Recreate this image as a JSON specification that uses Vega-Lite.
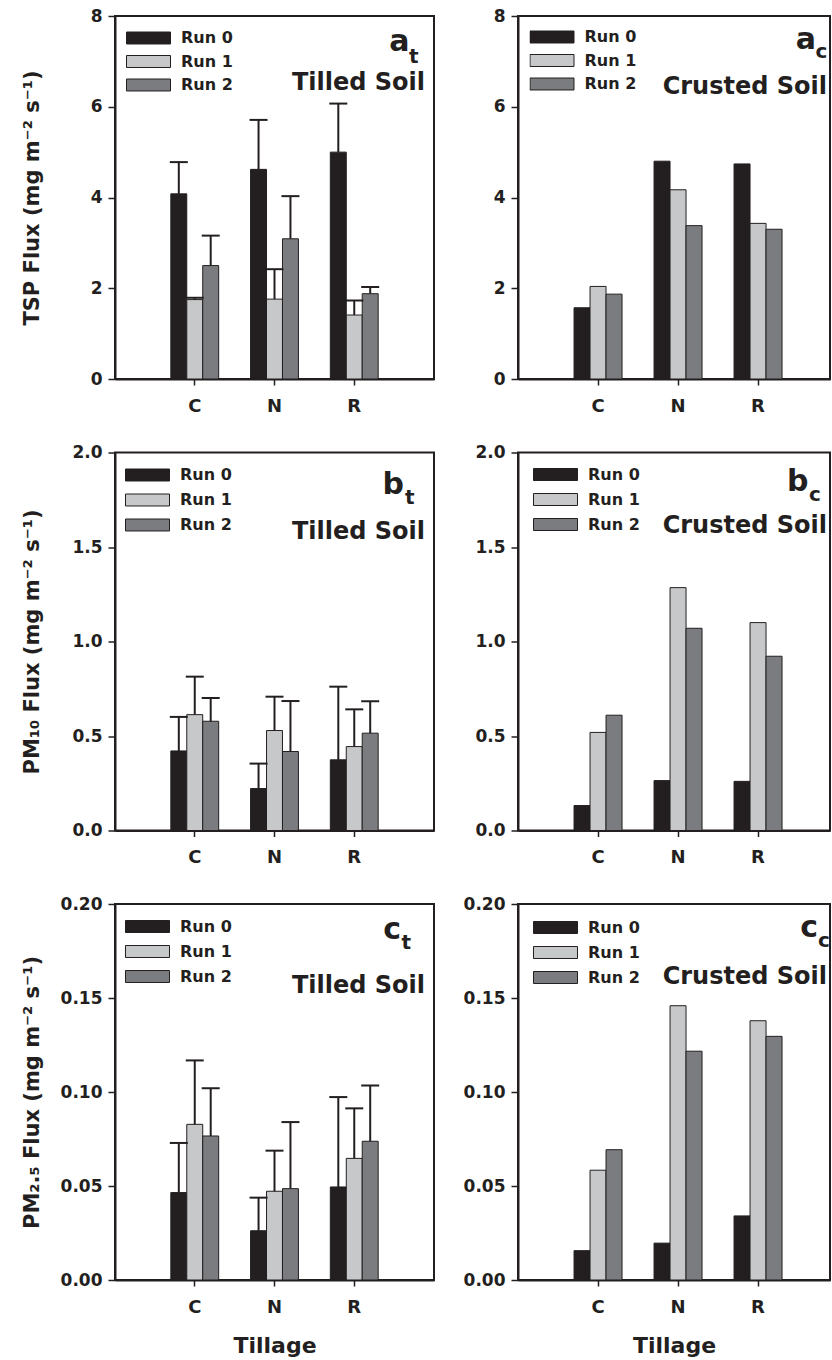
{
  "$schema": "https://vega.github.io/schema/vega-lite/v6.json",
  "background": "white",
  "padding": {"left": 20, "top": 6, "right": 0, "bottom": 0},
  "datasets": {
    "flux": [
      {"panel": "a_t", "tillage": "C", "run": "Run 0", "value": 4.08, "upper": 4.78},
      {"panel": "a_t", "tillage": "C", "run": "Run 1", "value": 1.75, "upper": 1.79},
      {"panel": "a_t", "tillage": "C", "run": "Run 2", "value": 2.5, "upper": 3.16},
      {"panel": "a_t", "tillage": "N", "run": "Run 0", "value": 4.62, "upper": 5.71},
      {"panel": "a_t", "tillage": "N", "run": "Run 1", "value": 1.76, "upper": 2.42},
      {"panel": "a_t", "tillage": "N", "run": "Run 2", "value": 3.09, "upper": 4.03},
      {"panel": "a_t", "tillage": "R", "run": "Run 0", "value": 5.0, "upper": 6.07},
      {"panel": "a_t", "tillage": "R", "run": "Run 1", "value": 1.41, "upper": 1.73},
      {"panel": "a_t", "tillage": "R", "run": "Run 2", "value": 1.88, "upper": 2.03},
      {"panel": "a_c", "tillage": "C", "run": "Run 0", "value": 1.57},
      {"panel": "a_c", "tillage": "C", "run": "Run 1", "value": 2.04},
      {"panel": "a_c", "tillage": "C", "run": "Run 2", "value": 1.87},
      {"panel": "a_c", "tillage": "N", "run": "Run 0", "value": 4.8},
      {"panel": "a_c", "tillage": "N", "run": "Run 1", "value": 4.17},
      {"panel": "a_c", "tillage": "N", "run": "Run 2", "value": 3.38},
      {"panel": "a_c", "tillage": "R", "run": "Run 0", "value": 4.74},
      {"panel": "a_c", "tillage": "R", "run": "Run 1", "value": 3.43},
      {"panel": "a_c", "tillage": "R", "run": "Run 2", "value": 3.3},
      {"panel": "b_t", "tillage": "C", "run": "Run 0", "value": 0.421, "upper": 0.601},
      {"panel": "b_t", "tillage": "C", "run": "Run 1", "value": 0.613, "upper": 0.814},
      {"panel": "b_t", "tillage": "C", "run": "Run 2", "value": 0.578, "upper": 0.701},
      {"panel": "b_t", "tillage": "N", "run": "Run 0", "value": 0.222, "upper": 0.354},
      {"panel": "b_t", "tillage": "N", "run": "Run 1", "value": 0.529, "upper": 0.708},
      {"panel": "b_t", "tillage": "N", "run": "Run 2", "value": 0.418, "upper": 0.685},
      {"panel": "b_t", "tillage": "R", "run": "Run 0", "value": 0.374, "upper": 0.761},
      {"panel": "b_t", "tillage": "R", "run": "Run 1", "value": 0.444, "upper": 0.641},
      {"panel": "b_t", "tillage": "R", "run": "Run 2", "value": 0.515, "upper": 0.684},
      {"panel": "b_c", "tillage": "C", "run": "Run 0", "value": 0.132},
      {"panel": "b_c", "tillage": "C", "run": "Run 1", "value": 0.519},
      {"panel": "b_c", "tillage": "C", "run": "Run 2", "value": 0.61},
      {"panel": "b_c", "tillage": "N", "run": "Run 0", "value": 0.264},
      {"panel": "b_c", "tillage": "N", "run": "Run 1", "value": 1.285},
      {"panel": "b_c", "tillage": "N", "run": "Run 2", "value": 1.07},
      {"panel": "b_c", "tillage": "R", "run": "Run 0", "value": 0.26},
      {"panel": "b_c", "tillage": "R", "run": "Run 1", "value": 1.1},
      {"panel": "b_c", "tillage": "R", "run": "Run 2", "value": 0.922},
      {"panel": "c_t", "tillage": "C", "run": "Run 0", "value": 0.0465, "upper": 0.0729},
      {"panel": "c_t", "tillage": "C", "run": "Run 1", "value": 0.0828, "upper": 0.1168},
      {"panel": "c_t", "tillage": "C", "run": "Run 2", "value": 0.0766, "upper": 0.102},
      {"panel": "c_t", "tillage": "N", "run": "Run 0", "value": 0.0262, "upper": 0.0438},
      {"panel": "c_t", "tillage": "N", "run": "Run 1", "value": 0.0472, "upper": 0.0688},
      {"panel": "c_t", "tillage": "N", "run": "Run 2", "value": 0.0486, "upper": 0.084},
      {"panel": "c_t", "tillage": "R", "run": "Run 0", "value": 0.0495, "upper": 0.0973},
      {"panel": "c_t", "tillage": "R", "run": "Run 1", "value": 0.0647, "upper": 0.0913},
      {"panel": "c_t", "tillage": "R", "run": "Run 2", "value": 0.0738, "upper": 0.1034},
      {"panel": "c_c", "tillage": "C", "run": "Run 0", "value": 0.0156},
      {"panel": "c_c", "tillage": "C", "run": "Run 1", "value": 0.0584},
      {"panel": "c_c", "tillage": "C", "run": "Run 2", "value": 0.0693},
      {"panel": "c_c", "tillage": "N", "run": "Run 0", "value": 0.0196},
      {"panel": "c_c", "tillage": "N", "run": "Run 1", "value": 0.1459},
      {"panel": "c_c", "tillage": "N", "run": "Run 2", "value": 0.1217},
      {"panel": "c_c", "tillage": "R", "run": "Run 0", "value": 0.0341},
      {"panel": "c_c", "tillage": "R", "run": "Run 1", "value": 0.1379},
      {"panel": "c_c", "tillage": "R", "run": "Run 2", "value": 0.1296}
    ],
    "notes": [
      {"panel": "a_t", "letter": "a", "sub": "t", "soil": "Tilled Soil"},
      {"panel": "a_c", "letter": "a", "sub": "c", "soil": "Crusted Soil"},
      {"panel": "b_t", "letter": "b", "sub": "t", "soil": "Tilled Soil"},
      {"panel": "b_c", "letter": "b", "sub": "c", "soil": "Crusted Soil"},
      {"panel": "c_t", "letter": "c", "sub": "t", "soil": "Tilled Soil"},
      {"panel": "c_c", "letter": "c", "sub": "c", "soil": "Crusted Soil"}
    ]
  },
  "bounds": "flush",
  "columns": 2,
  "spacing": {"row": 73.5, "column": 84},
  "resolve": {"scale": {"x": "independent", "y": "independent", "xOffset": "independent", "fill": "independent"}, "legend": {"fill": "independent"}},
  "concat": [
    {
      "width": 319, "height": 363,
      "layer": [
        {"data": {"name": "flux"}, "transform": [{"filter": "datum.panel === 'a_t'"}],
         "mark": {"type": "bar", "stroke": "#231f20", "strokeWidth": 1, "opacity": 1},
         "encoding": {
           "x": {"field": "tillage", "type": "nominal", "sort": ["C", "N", "R"], "scale": {"paddingInner": 0, "paddingOuter": 0.5}, "axis": {"title": null}},
           "xOffset": {"field": "run", "type": "nominal", "sort": ["Run 0", "Run 1", "Run 2"], "scale": {"paddingInner": 0, "paddingOuter": 1}},
           "y": {"field": "value", "type": "quantitative", "scale": {"domain": [0, 8], "nice": false}, "axis": {"values": [0, 2, 4, 6, 8], "format": "d", "title": "TSP Flux (mg m⁻² s⁻¹)"}},
           "fill": {"field": "run", "type": "nominal", "scale": {"domain": ["Run 0", "Run 1", "Run 2"], "range": ["#231f20", "#c7c8ca", "#7b7c80"]}, "legend": {"title": null, "legendX": 11, "legendY": 15, "rowPadding": 7.5}}
         }},
        {"data": {"name": "flux"}, "transform": [{"filter": "datum.panel === 'a_t'"}],
         "mark": {"type": "rule", "color": "#231f20", "strokeWidth": 2, "opacity": 1},
         "encoding": {
           "x": {"field": "tillage", "type": "nominal", "sort": ["C", "N", "R"], "scale": {"paddingInner": 0, "paddingOuter": 0.5}, "axis": {"title": null}},
           "xOffset": {"field": "run", "type": "nominal", "sort": ["Run 0", "Run 1", "Run 2"], "scale": {"paddingInner": 0, "paddingOuter": 1}},
           "y": {"field": "value", "type": "quantitative", "scale": {"domain": [0, 8], "nice": false}, "axis": {"values": [0, 2, 4, 6, 8], "format": "d", "title": "TSP Flux (mg m⁻² s⁻¹)"}},
           "y2": {"field": "upper"}
         }},
        {"data": {"name": "flux"}, "transform": [{"filter": "datum.panel === 'a_t'"}],
         "mark": {"type": "tick", "color": "#231f20", "thickness": 2, "size": 18, "orient": "horizontal", "opacity": 1},
         "encoding": {
           "x": {"field": "tillage", "type": "nominal", "sort": ["C", "N", "R"], "scale": {"paddingInner": 0, "paddingOuter": 0.5}, "axis": {"title": null}},
           "xOffset": {"field": "run", "type": "nominal", "sort": ["Run 0", "Run 1", "Run 2"], "scale": {"paddingInner": 0, "paddingOuter": 1}},
           "y": {"field": "upper", "type": "quantitative", "scale": {"domain": [0, 8], "nice": false}, "axis": {"values": [0, 2, 4, 6, 8], "format": "d", "title": "TSP Flux (mg m⁻² s⁻¹)"}}
         }},
        {"data": {"name": "notes"}, "transform": [{"filter": "datum.panel === 'a_t'"}],
         "mark": {"type": "text", "align": "right", "baseline": "alphabetic", "fontSize": 30, "dx": -24.5},
         "encoding": {"x": {"value": "width"}, "y": {"datum": 7.23}, "text": {"field": "letter"}}},
        {"data": {"name": "notes"}, "transform": [{"filter": "datum.panel === 'a_t'"}],
         "mark": {"type": "text", "align": "left", "baseline": "alphabetic", "fontSize": 20, "dx": -25},
         "encoding": {"x": {"value": "width"}, "y": {"datum": 6.97}, "text": {"field": "sub"}}},
        {"data": {"name": "notes"}, "transform": [{"filter": "datum.panel === 'a_t'"}],
         "mark": {"type": "text", "align": "right", "baseline": "alphabetic", "fontSize": 24, "dx": -9},
         "encoding": {"x": {"value": "width"}, "y": {"datum": 6.38}, "text": {"field": "soil"}}}
      ]
    },
    {
      "width": 312, "height": 363,
      "layer": [
        {"data": {"name": "flux"}, "transform": [{"filter": "datum.panel === 'a_c'"}],
         "mark": {"type": "bar", "stroke": "#231f20", "strokeWidth": 1, "opacity": 1},
         "encoding": {
           "x": {"field": "tillage", "type": "nominal", "sort": ["C", "N", "R"], "scale": {"paddingInner": 0, "paddingOuter": 0.45, "align": 0.556}, "axis": {"title": null}},
           "xOffset": {"field": "run", "type": "nominal", "sort": ["Run 0", "Run 1", "Run 2"], "scale": {"paddingInner": 0, "paddingOuter": 1}},
           "y": {"field": "value", "type": "quantitative", "scale": {"domain": [0, 8], "nice": false}, "axis": {"values": [0, 2, 4, 6, 8], "format": "d", "title": null}},
           "fill": {"field": "run", "type": "nominal", "scale": {"domain": ["Run 0", "Run 1", "Run 2"], "range": ["#231f20", "#c7c8ca", "#7b7c80"]}, "legend": {"title": null, "legendX": 11.5, "legendY": 14, "rowPadding": 7.5}}
         }},
        {"data": {"name": "notes"}, "transform": [{"filter": "datum.panel === 'a_c'"}],
         "mark": {"type": "text", "align": "right", "baseline": "alphabetic", "fontSize": 30, "dx": -14},
         "encoding": {"x": {"value": "width"}, "y": {"datum": 7.28}, "text": {"field": "letter"}}},
        {"data": {"name": "notes"}, "transform": [{"filter": "datum.panel === 'a_c'"}],
         "mark": {"type": "text", "align": "left", "baseline": "alphabetic", "fontSize": 20, "dx": -14.5},
         "encoding": {"x": {"value": "width"}, "y": {"datum": 7.07}, "text": {"field": "sub"}}},
        {"data": {"name": "notes"}, "transform": [{"filter": "datum.panel === 'a_c'"}],
         "mark": {"type": "text", "align": "right", "baseline": "alphabetic", "fontSize": 24, "dx": -3},
         "encoding": {"x": {"value": "width"}, "y": {"datum": 6.29}, "text": {"field": "soil"}}}
      ]
    },
    {
      "width": 319, "height": 378,
      "layer": [
        {"data": {"name": "flux"}, "transform": [{"filter": "datum.panel === 'b_t'"}],
         "mark": {"type": "bar", "stroke": "#231f20", "strokeWidth": 1, "opacity": 1},
         "encoding": {
           "x": {"field": "tillage", "type": "nominal", "sort": ["C", "N", "R"], "scale": {"paddingInner": 0, "paddingOuter": 0.5}, "axis": {"title": null}},
           "xOffset": {"field": "run", "type": "nominal", "sort": ["Run 0", "Run 1", "Run 2"], "scale": {"paddingInner": 0, "paddingOuter": 1}},
           "y": {"field": "value", "type": "quantitative", "scale": {"domain": [0, 2], "nice": false}, "axis": {"values": [0, 0.5, 1, 1.5, 2], "format": ".1f", "title": "PM₁₀ Flux (mg m⁻² s⁻¹)"}},
           "fill": {"field": "run", "type": "nominal", "scale": {"domain": ["Run 0", "Run 1", "Run 2"], "range": ["#231f20", "#c7c8ca", "#7b7c80"]}, "legend": {"title": null, "legendX": 10, "legendY": 15.5, "rowPadding": 9}}
         }},
        {"data": {"name": "flux"}, "transform": [{"filter": "datum.panel === 'b_t'"}],
         "mark": {"type": "rule", "color": "#231f20", "strokeWidth": 2, "opacity": 1},
         "encoding": {
           "x": {"field": "tillage", "type": "nominal", "sort": ["C", "N", "R"], "scale": {"paddingInner": 0, "paddingOuter": 0.5}, "axis": {"title": null}},
           "xOffset": {"field": "run", "type": "nominal", "sort": ["Run 0", "Run 1", "Run 2"], "scale": {"paddingInner": 0, "paddingOuter": 1}},
           "y": {"field": "value", "type": "quantitative", "scale": {"domain": [0, 2], "nice": false}, "axis": {"values": [0, 0.5, 1, 1.5, 2], "format": ".1f", "title": "PM₁₀ Flux (mg m⁻² s⁻¹)"}},
           "y2": {"field": "upper"}
         }},
        {"data": {"name": "flux"}, "transform": [{"filter": "datum.panel === 'b_t'"}],
         "mark": {"type": "tick", "color": "#231f20", "thickness": 2, "size": 18, "orient": "horizontal", "opacity": 1},
         "encoding": {
           "x": {"field": "tillage", "type": "nominal", "sort": ["C", "N", "R"], "scale": {"paddingInner": 0, "paddingOuter": 0.5}, "axis": {"title": null}},
           "xOffset": {"field": "run", "type": "nominal", "sort": ["Run 0", "Run 1", "Run 2"], "scale": {"paddingInner": 0, "paddingOuter": 1}},
           "y": {"field": "upper", "type": "quantitative", "scale": {"domain": [0, 2], "nice": false}, "axis": {"values": [0, 0.5, 1, 1.5, 2], "format": ".1f", "title": "PM₁₀ Flux (mg m⁻² s⁻¹)"}}
         }},
        {"data": {"name": "notes"}, "transform": [{"filter": "datum.panel === 'b_t'"}],
         "mark": {"type": "text", "align": "right", "baseline": "alphabetic", "fontSize": 30, "dx": -30},
         "encoding": {"x": {"value": "width"}, "y": {"datum": 1.78}, "text": {"field": "letter"}}},
        {"data": {"name": "notes"}, "transform": [{"filter": "datum.panel === 'b_t'"}],
         "mark": {"type": "text", "align": "left", "baseline": "alphabetic", "fontSize": 20, "dx": -29},
         "encoding": {"x": {"value": "width"}, "y": {"datum": 1.727}, "text": {"field": "sub"}}},
        {"data": {"name": "notes"}, "transform": [{"filter": "datum.panel === 'b_t'"}],
         "mark": {"type": "text", "align": "right", "baseline": "alphabetic", "fontSize": 24, "dx": -9},
         "encoding": {"x": {"value": "width"}, "y": {"datum": 1.542}, "text": {"field": "soil"}}}
      ]
    },
    {
      "width": 312, "height": 378,
      "layer": [
        {"data": {"name": "flux"}, "transform": [{"filter": "datum.panel === 'b_c'"}],
         "mark": {"type": "bar", "stroke": "#231f20", "strokeWidth": 1, "opacity": 1},
         "encoding": {
           "x": {"field": "tillage", "type": "nominal", "sort": ["C", "N", "R"], "scale": {"paddingInner": 0, "paddingOuter": 0.45, "align": 0.556}, "axis": {"title": null}},
           "xOffset": {"field": "run", "type": "nominal", "sort": ["Run 0", "Run 1", "Run 2"], "scale": {"paddingInner": 0, "paddingOuter": 1}},
           "y": {"field": "value", "type": "quantitative", "scale": {"domain": [0, 2], "nice": false}, "axis": {"values": [0, 0.5, 1, 1.5, 2], "format": ".1f", "title": null}},
           "fill": {"field": "run", "type": "nominal", "scale": {"domain": ["Run 0", "Run 1", "Run 2"], "range": ["#231f20", "#c7c8ca", "#7b7c80"]}, "legend": {"title": null, "legendX": 15, "legendY": 15, "rowPadding": 9}}
         }},
        {"data": {"name": "notes"}, "transform": [{"filter": "datum.panel === 'b_c'"}],
         "mark": {"type": "text", "align": "right", "baseline": "alphabetic", "fontSize": 30, "dx": -21.5},
         "encoding": {"x": {"value": "width"}, "y": {"datum": 1.795}, "text": {"field": "letter"}}},
        {"data": {"name": "notes"}, "transform": [{"filter": "datum.panel === 'b_c'"}],
         "mark": {"type": "text", "align": "left", "baseline": "alphabetic", "fontSize": 20, "dx": -21},
         "encoding": {"x": {"value": "width"}, "y": {"datum": 1.742}, "text": {"field": "sub"}}},
        {"data": {"name": "notes"}, "transform": [{"filter": "datum.panel === 'b_c'"}],
         "mark": {"type": "text", "align": "right", "baseline": "alphabetic", "fontSize": 24, "dx": -3},
         "encoding": {"x": {"value": "width"}, "y": {"datum": 1.572}, "text": {"field": "soil"}}}
      ]
    },
    {
      "width": 319, "height": 376,
      "layer": [
        {"data": {"name": "flux"}, "transform": [{"filter": "datum.panel === 'c_t'"}],
         "mark": {"type": "bar", "stroke": "#231f20", "strokeWidth": 1, "opacity": 1},
         "encoding": {
           "x": {"field": "tillage", "type": "nominal", "sort": ["C", "N", "R"], "scale": {"paddingInner": 0, "paddingOuter": 0.5}, "axis": {"title": "Tillage"}},
           "xOffset": {"field": "run", "type": "nominal", "sort": ["Run 0", "Run 1", "Run 2"], "scale": {"paddingInner": 0, "paddingOuter": 1}},
           "y": {"field": "value", "type": "quantitative", "scale": {"domain": [0, 0.2], "nice": false}, "axis": {"values": [0, 0.05, 0.1, 0.15, 0.2], "format": ".2f", "title": "PM₂.₅ Flux (mg m⁻² s⁻¹)"}},
           "fill": {"field": "run", "type": "nominal", "scale": {"domain": ["Run 0", "Run 1", "Run 2"], "range": ["#231f20", "#c7c8ca", "#7b7c80"]}, "legend": {"title": null, "legendX": 10, "legendY": 15.5, "rowPadding": 9}}
         }},
        {"data": {"name": "flux"}, "transform": [{"filter": "datum.panel === 'c_t'"}],
         "mark": {"type": "rule", "color": "#231f20", "strokeWidth": 2, "opacity": 1},
         "encoding": {
           "x": {"field": "tillage", "type": "nominal", "sort": ["C", "N", "R"], "scale": {"paddingInner": 0, "paddingOuter": 0.5}, "axis": {"title": "Tillage"}},
           "xOffset": {"field": "run", "type": "nominal", "sort": ["Run 0", "Run 1", "Run 2"], "scale": {"paddingInner": 0, "paddingOuter": 1}},
           "y": {"field": "value", "type": "quantitative", "scale": {"domain": [0, 0.2], "nice": false}, "axis": {"values": [0, 0.05, 0.1, 0.15, 0.2], "format": ".2f", "title": "PM₂.₅ Flux (mg m⁻² s⁻¹)"}},
           "y2": {"field": "upper"}
         }},
        {"data": {"name": "flux"}, "transform": [{"filter": "datum.panel === 'c_t'"}],
         "mark": {"type": "tick", "color": "#231f20", "thickness": 2, "size": 18, "orient": "horizontal", "opacity": 1},
         "encoding": {
           "x": {"field": "tillage", "type": "nominal", "sort": ["C", "N", "R"], "scale": {"paddingInner": 0, "paddingOuter": 0.5}, "axis": {"title": "Tillage"}},
           "xOffset": {"field": "run", "type": "nominal", "sort": ["Run 0", "Run 1", "Run 2"], "scale": {"paddingInner": 0, "paddingOuter": 1}},
           "y": {"field": "upper", "type": "quantitative", "scale": {"domain": [0, 0.2], "nice": false}, "axis": {"values": [0, 0.05, 0.1, 0.15, 0.2], "format": ".2f", "title": "PM₂.₅ Flux (mg m⁻² s⁻¹)"}}
         }},
        {"data": {"name": "notes"}, "transform": [{"filter": "datum.panel === 'c_t'"}],
         "mark": {"type": "text", "align": "right", "baseline": "alphabetic", "fontSize": 30, "dx": -33},
         "encoding": {"x": {"value": "width"}, "y": {"datum": 0.1814}, "text": {"field": "letter"}}},
        {"data": {"name": "notes"}, "transform": [{"filter": "datum.panel === 'c_t'"}],
         "mark": {"type": "text", "align": "left", "baseline": "alphabetic", "fontSize": 20, "dx": -32.5},
         "encoding": {"x": {"value": "width"}, "y": {"datum": 0.176}, "text": {"field": "sub"}}},
        {"data": {"name": "notes"}, "transform": [{"filter": "datum.panel === 'c_t'"}],
         "mark": {"type": "text", "align": "right", "baseline": "alphabetic", "fontSize": 24, "dx": -9},
         "encoding": {"x": {"value": "width"}, "y": {"datum": 0.1527}, "text": {"field": "soil"}}}
      ]
    },
    {
      "width": 312, "height": 376,
      "layer": [
        {"data": {"name": "flux"}, "transform": [{"filter": "datum.panel === 'c_c'"}],
         "mark": {"type": "bar", "stroke": "#231f20", "strokeWidth": 1, "opacity": 1},
         "encoding": {
           "x": {"field": "tillage", "type": "nominal", "sort": ["C", "N", "R"], "scale": {"paddingInner": 0, "paddingOuter": 0.45, "align": 0.556}, "axis": {"title": "Tillage"}},
           "xOffset": {"field": "run", "type": "nominal", "sort": ["Run 0", "Run 1", "Run 2"], "scale": {"paddingInner": 0, "paddingOuter": 1}},
           "y": {"field": "value", "type": "quantitative", "scale": {"domain": [0, 0.2], "nice": false}, "axis": {"values": [0, 0.05, 0.1, 0.15, 0.2], "format": ".2f", "title": null}},
           "fill": {"field": "run", "type": "nominal", "scale": {"domain": ["Run 0", "Run 1", "Run 2"], "range": ["#231f20", "#c7c8ca", "#7b7c80"]}, "legend": {"title": null, "legendX": 15, "legendY": 16.5, "rowPadding": 9}}
         }},
        {"data": {"name": "notes"}, "transform": [{"filter": "datum.panel === 'c_c'"}],
         "mark": {"type": "text", "align": "right", "baseline": "alphabetic", "fontSize": 30, "dx": -12},
         "encoding": {"x": {"value": "width"}, "y": {"datum": 0.1827}, "text": {"field": "letter"}}},
        {"data": {"name": "notes"}, "transform": [{"filter": "datum.panel === 'c_c'"}],
         "mark": {"type": "text", "align": "left", "baseline": "alphabetic", "fontSize": 20, "dx": -12},
         "encoding": {"x": {"value": "width"}, "y": {"datum": 0.1769}, "text": {"field": "sub"}}},
        {"data": {"name": "notes"}, "transform": [{"filter": "datum.panel === 'c_c'"}],
         "mark": {"type": "text", "align": "right", "baseline": "alphabetic", "fontSize": 24, "dx": -3},
         "encoding": {"x": {"value": "width"}, "y": {"datum": 0.1574}, "text": {"field": "soil"}}}
      ]
    }
  ],
  "config": {
    "font": "DejaVu Sans",
    "view": {"stroke": "#231f20", "strokeWidth": 2},
    "text": {"font": "DejaVu Sans", "fontWeight": "bold", "color": "#231f20"},
    "axis": {"grid": false, "domainColor": "#231f20", "domainWidth": 2, "tickColor": "#231f20", "tickWidth": 1.5, "labelFont": "DejaVu Sans", "labelFontWeight": "bold", "labelFontSize": 17, "labelColor": "#231f20", "titleFont": "DejaVu Sans", "titleFontWeight": "bold", "titleColor": "#231f20", "titleFontSize": 21},
    "axisX": {"tickSize": 6, "labelPadding": 12, "labelAngle": 0, "labelFontSize": 18, "titleFontSize": 22, "titlePadding": 19},
    "axisY": {"tickSize": 7, "labelPadding": 6, "minExtent": 56, "maxExtent": 56, "titlePadding": 17},
    "legend": {"orient": "none", "symbolType": "M-1,-0.2727L1,-0.2727L1,0.2727L-1,0.2727Z", "symbolSize": 1936, "symbolStrokeColor": "#231f20", "symbolStrokeWidth": 1, "symbolOpacity": 1, "clipHeight": 14, "labelOffset": 10, "labelFont": "DejaVu Sans", "labelFontWeight": "bold", "labelFontSize": 16, "labelColor": "#231f20", "padding": 0}
  }
}
